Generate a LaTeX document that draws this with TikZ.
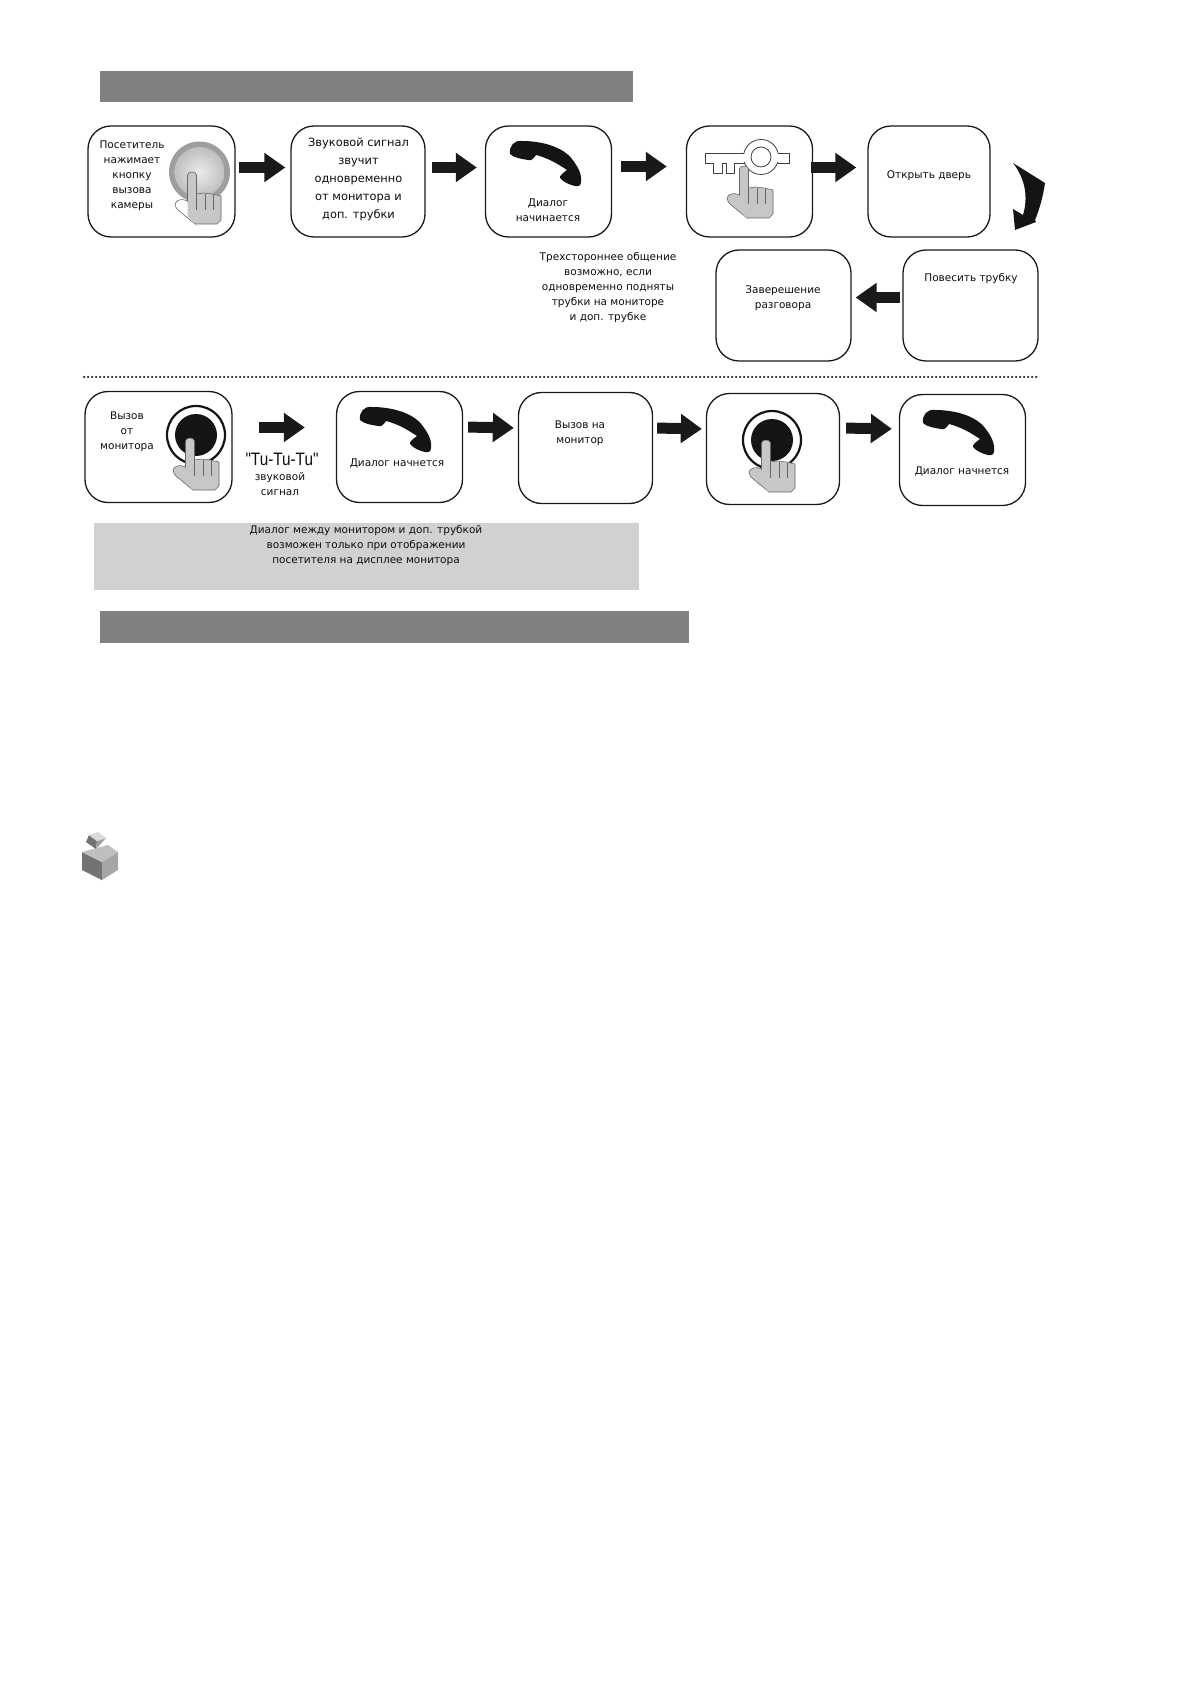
\documentclass[tikz,border=0pt]{standalone}
\usepackage{fontspec}
\setmainfont{DejaVu Sans}
\newfontfamily\tufont{Liberation Sans}
\usetikzlibrary{arrows.meta}

\tikzstyle{stepbox} = [rectangle, rounded corners=11.5pt, minimum width=63pt, minimum height=55.5pt, draw=black!90, line width=0.65pt, fill=white]
\tikzstyle{caption} = [inner sep=0pt, yshift=-1pt, align=center, text=black!95, font=\fontsize{5.25}{7.5}\selectfont]
\tikzstyle{bigcaption} = [caption, font=\fontsize{5.7}{9}\selectfont]
\tikzstyle{bar} = [rectangle, inner sep=0pt, fill=black!50]
\tikzstyle{blockarrow} = [line width=5.5pt, black!90, -{Triangle[length=10.5pt,width=14pt]}]
\tikzset{
	hand/.pic={
		\draw [black!60, line width=0.3pt, fill=#1] (-4.5,29) .. controls (-10,26) and (-16,28) .. (-17,32) .. controls (-17,35) and (-15,37) .. (-14,38) -- (3,52) -- cycle;
		\fill [black!22] (-4.5,3) .. controls (-4,-1) and (4,-1) .. (4.5,3) -- (4.5,22) -- (12,21) -- (20,22) -- (29,24) -- (29,48) -- (25,52) -- (3,52) -- (-4.5,44) -- cycle;
		\draw [black!60, line width=0.3pt] (-4.5,29) -- (-4.5,3) .. controls (-4,-1) and (4,-1) .. (4.5,3) -- (4.5,22) -- (12,21) -- (20,22) -- (29,24) -- (29,48) -- (25,52) -- (3,52);
		\draw [black!60, line width=0.3pt] (4.5,22) -- (4.5,38) (13,22) -- (13,38) (21,23) -- (21,38);
	},
	phone/.pic={
		\fill [black!92] (0,14) .. controls (-1,6) and (4,0) .. (12,1) .. controls (30,1) and (52,6) .. (62,19) .. controls (68,27) and (72,34) .. (71,42) .. controls (71,45) and (69,47) .. (65,46) .. controls (60,45) and (53,42) .. (50,38) .. controls (49,36) and (53,33) .. (57,30) .. controls (48,24) and (38,18) .. (26,15) .. controls (24,18) and (22,21) .. (18,20) .. controls (12,19) and (4,18) .. (0,14) -- cycle;
	},
	pushbutton/.pic={
		\draw [black!92, line width=1.1pt, fill=white] (0,0) circle (29);
		\fill [black!92] (0,0) circle (21);
	}
}

\begin{document}
\begin{tikzpicture}[x=0.5pt, y=-0.5pt, node distance=90pt]
	\useasboundingbox (0,0) rectangle (1191,1684);
	% Place bars
	\node [bar, minimum width=266.5pt, minimum height=15.5pt] (TopBar) at (366.5,86.5) {};
	\node [bar, minimum width=272.5pt, minimum height=33.5pt, fill=black!18] (NoteBar) at (366.5,556.5) {};
	\node [bar, minimum width=294.5pt, minimum height=16pt] (LowerBar) at (394.5,627) {};
	% Place boxes
	\node [stepbox, minimum width=73.5pt] (Visitor) at (161.5,181.5) {};
	\node [stepbox, minimum width=67pt, right of=Visitor, xshift=8.25pt] (Chime) {};
	\node [stepbox, right of=Chime, xshift=5.25pt] (Talk) {};
	\node [stepbox, right of=Talk, xshift=10.5pt] (KeyBox) {};
	\node [stepbox, minimum width=61pt, right of=KeyBox, xshift=-0.25pt] (OpenDoor) {};
	\node [stepbox, minimum width=67.5pt, below of=OpenDoor, xshift=20.75pt, yshift=28pt] (HangUp) {};
	\node [stepbox, minimum width=67.5pt, left of=HangUp, xshift=-3.5pt] (Finish) {};
	\node [stepbox, minimum width=73.5pt] (MonitorCall) at (158.5,447) {};
	\node [stepbox, right of=MonitorCall, xshift=30.5pt] (TalkTwo) {};
	\node [stepbox, minimum width=67pt, right of=TalkTwo, xshift=3pt, yshift=-0.5pt] (CallIn) {};
	\node [stepbox, minimum width=66.5pt, right of=CallIn, xshift=3.75pt, yshift=-0.5pt] (ButtonBox) {};
	\node [stepbox, right of=ButtonBox, xshift=4.75pt, yshift=-0.5pt] (TalkThree) {};
	% Icons
	\fill [black!38] (199.5,172) circle (30.5);
	\shade [inner color=black!8, outer color=black!25] (199.5,172) circle (25);
	\pic at (192,172) {hand=white};
	\draw [black!75, line width=0.4pt, fill=white] (705,153) -- (705,163) -- (713,163) -- (713,173) -- (722,173) -- (722,163) -- (726,163) -- (726,173) -- (734,173) -- (734,163) -- (789,163) -- (789,153) -- cycle;
	\draw [black!75, line width=0.4pt, fill=white] (761,157) circle (17.5);
	\fill [white] (741,154) rectangle (787.5,162);
	\draw [black!75, line width=0.4pt, fill=white] (761,157) circle (10);
	\pic at (744,166) {hand=black!22};
	\pic at (510,140) {phone};
	\pic at (360,406) {phone};
	\pic at (923,409) {phone};
	\pic at (196,435) {pushbutton};
	\pic at (190,438) {hand=black!22};
	\pic at (772,440) {pushbutton};
	\pic at (766,440) {hand=black!22};
	% Place captions
	\node [caption] (VisitorText) at (132,174) {Посетитель\\нажимает\\кнопку\\вызова\\камеры};
	\node [bigcaption] (ChimeText) at (358.5,177) {Звуковой сигнал\\звучит\\одновременно\\от монитора и\\доп. трубки};
	\node [caption] (TalkText) at (548,208.5) {Диалог\\начинается};
	\node [caption] (OpenDoorText) at (929,174) {Открыть дверь};
	\node [caption] (HangUpText) at (971,277) {Повесить трубку};
	\node [caption] (FinishText) at (783,296.5) {Заверешение\\разговора};
	\node [caption] (ThreeWayText) at (608,285.5) {Трехстороннее общение\\возможно, если\\одновременно подняты\\трубки на мониторе\\и доп. трубке};
	\node [caption] (MonitorCallText) at (127,430) {Вызов\\от\\монитора};
	\node [caption] (TalkTwoText) at (397,461) {Диалог начнется};
	\node [caption] (CallInText) at (580,431) {Вызов на\\монитор};
	\node [caption] (TalkThreeText) at (962,469) {Диалог начнется};
	\node [caption] (NoteText) at (366,544) {Диалог между монитором и доп. трубкой\\возможен только при отображении\\посетителя на дисплее монитора};
	\node [caption, xscale=0.85, font=\tufont\fontsize{9}{9}\selectfont] (TuText) at (282,457) {"Tu-Tu-Tu"};
	\node [caption] (SignalText) at (280,482.5) {звуковой\\сигнал};
	% Draw edges
	\draw [blockarrow, shorten <=1.5pt, shorten >=2.5pt] ([yshift=7pt]Visitor.east) -- ([yshift=7pt]Chime.west);
	\draw [blockarrow, shorten <=3pt, shorten >=4pt] ([yshift=7pt]Chime.east) -- ([yshift=7pt]Talk.west);
	\draw [blockarrow, shorten <=4.5pt, shorten >=9.5pt] ([yshift=7.5pt]Talk.east) -- ([yshift=7.5pt]KeyBox.west);
	\draw [blockarrow, shorten <=-1pt, shorten >=5.5pt] ([yshift=7pt]KeyBox.east) -- ([yshift=7pt]OpenDoor.west);
	\draw [blockarrow, shorten <=1pt, shorten >=2pt] ([yshift=4pt]HangUp.west) -- ([yshift=4pt]Finish.east);
	\draw [blockarrow, shorten <=13pt, shorten >=15.5pt] ([yshift=9.75pt]MonitorCall.east) -- ([yshift=9.75pt]TalkTwo.west);
	\draw [blockarrow, shorten <=2.5pt, shorten >=2pt] ([yshift=10pt]TalkTwo.east) -- ([yshift=10pt]CallIn.west);
	\draw [blockarrow, shorten <=2pt, shorten >=2pt] ([yshift=10pt]CallIn.east) -- ([yshift=10pt]ButtonBox.west);
	\draw [blockarrow, shorten <=3pt, shorten >=3.5pt] ([yshift=10.5pt]ButtonBox.east) -- ([yshift=10.5pt]TalkThree.west);
	% Curved arrow and dotted rule
	\fill [black!92] (1013,163) -- (1045,183) .. controls (1043,196) and (1040,208) .. (1035,220) -- (1036,222) -- (1015,230) -- (1013,209) -- (1023,215) .. controls (1028,198) and (1026,180) .. cycle;
	\coordinate (RuleStart) at (84,377);
	\coordinate (RuleEnd) at (1038,377);
	\draw [line width=1.25pt, line cap=round, dash pattern=on 0pt off 2pt, black!85] (RuleStart) -- (RuleEnd);
	% Cube
	\fill [black!55] (82,852) -- (102,862) -- (102,880) -- (82,870) -- cycle;
	\fill [black!35] (102,862) -- (118,852) -- (118,870) -- (102,880) -- cycle;
	\fill [black!25] (82,852) -- (108,845) -- (118,852) -- (102,862) -- cycle;
	\fill [black!55] (86,842) -- (96,849) -- (97,841) -- (89,835) -- cycle;
	\fill [black!38] (96,849) -- (106,838) -- (97,841) -- cycle;
	\fill [black!15] (89,835) -- (98,832) -- (106,838) -- (97,841) -- cycle;
\end{tikzpicture}
\end{document}
